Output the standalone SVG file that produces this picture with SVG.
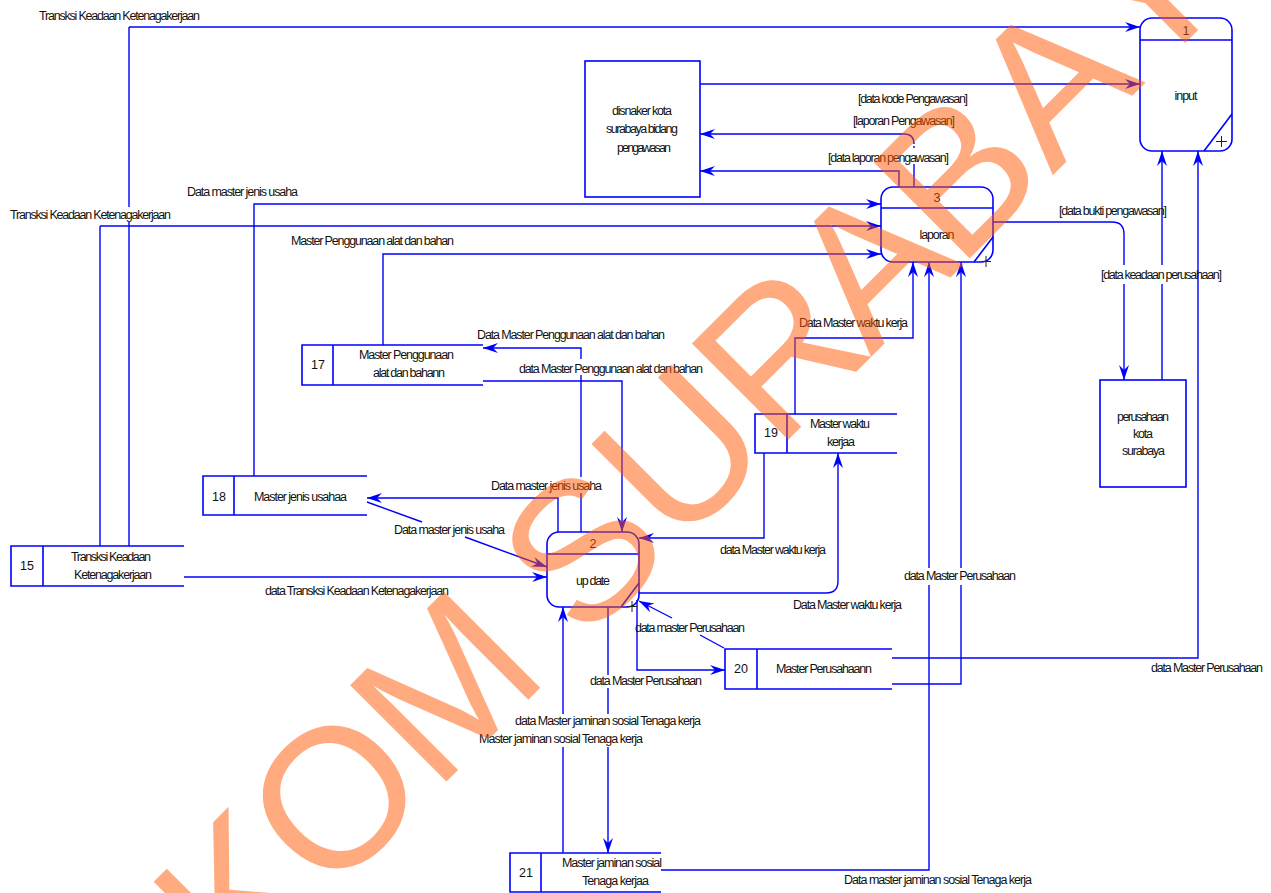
<svg xmlns="http://www.w3.org/2000/svg" width="1271" height="893" viewBox="0 0 1271 893">
<style>
text{font-family:"Liberation Sans",Arial,sans-serif;font-size:12.500px;fill:#111}
.m{text-anchor:middle}
.s{fill:none;stroke:#0000ff;stroke-width:1.6}
.c{fill:none;stroke:#0000ff;stroke-width:1.4}
.a{marker-end:url(#ah)}
.w{font-size:198px;fill:#ff5700;fill-opacity:.5}
</style>
<defs>
<marker id="ah" markerUnits="userSpaceOnUse" viewBox="-16 -6 17 12" refX="0" refY="0" markerWidth="17" markerHeight="12" orient="auto">
<path d="M-15,-5 L0,0 L-15,5 L-10,0 Z" fill="#0000ff"/>
</marker>
</defs>
<rect width="1271" height="893" fill="#fff"/>
<g id="connectors">
<path class="c" d="M129,546V222M129,207V27"/><path class="c a" d="M129,27H1140"/>
<path class="c" d="M100,546V226"/><path class="c a" d="M100,226H881"/>
<path class="c a" d="M700,84H1140"/>
<path class="c" d="M914,187V164M914,148V146"/><path class="c a" d="M914,144Q914,134 904,134H700"/>
<path class="c a" d="M899,187V171H700"/>
<path class="c a" d="M254,476V204H881"/>
<path class="c a" d="M383,345V254H881"/>
<path class="c a" d="M993,222H1112Q1124,222 1124,234V265M1124,284V380"/>
<path class="c a" d="M1162,380V284M1162,265V151"/>
<path class="c a" d="M892,658H1198V151"/>
<path class="c a" d="M892,684H961V585M961,568V262"/>
<path class="c a" d="M661,870H929V585M929,568V262"/>
<path class="c a" d="M795,414V338H913V262"/>
<path class="c a" d="M764,453V538H639"/>
<path class="c a" d="M639,593H826Q838,593 838,581V453"/>
<path class="c a" d="M483,381H622V532"/>
<path class="c a" d="M581,532V493M581,477V375M581,359V348H483"/>
<path class="c a" d="M558,532V498H367"/>
<path class="c" d="M367,502L422,522"/><path class="c a" d="M465,537L547,567"/>
<path class="c a" d="M184,577H547"/>
<path class="c a" d="M563,853V747M563,714V607"/>
<path class="c a" d="M608,607V675M608,688V714M608,747V853"/>
<path class="c" d="M724,648L700,635"/><path class="c a" d="M672,618L639,601"/>
<path class="c a" d="M637,600V670H725"/>
</g>
<g id="labels">
<text x="39" y="20" textLength="161">Transksi Keadaan Ketenagakerjaan</text>
<text x="858" y="103" textLength="110">[data kode Pengawasan]</text>
<text x="853" y="125" textLength="102">[laporan Pengawasan]</text>
<text x="828" y="162" textLength="121">[data laporan pengawasan]</text>
<text x="187" y="196" textLength="111">Data master jenis usaha</text>
<text x="10" y="219" textLength="161">Transksi Keadaan Ketenagakerjaan</text>
<text x="291" y="245" textLength="163">Master Penggunaan alat dan bahan</text>
<text x="1059" y="215" textLength="108">[data bukti pengawasan]</text>
<text x="1101" y="279" textLength="121">[data keadaan perusahaan]</text>
<text x="799" y="327" textLength="109">Data Master waktu kerja</text>
<text x="477" y="339" textLength="188">Data Master Penggunaan alat dan bahan</text>
<text x="519" y="373" textLength="184">data Master Penggunaan alat dan bahan</text>
<text x="491" y="490" textLength="111">Data master jenis usaha</text>
<text x="394" y="534" textLength="111">Data master jenis usaha</text>
<text x="720" y="554" textLength="106">data Master waktu kerja</text>
<text x="265" y="595" textLength="184">data Transksi Keadaan Ketenagakerjaan</text>
<text x="793" y="609" textLength="109">Data Master waktu kerja</text>
<text x="904" y="580" textLength="112">data Master Perusahaan</text>
<text x="635" y="632" textLength="110">data master Perusahaan</text>
<text x="590" y="685" textLength="112">data Master Perusahaan</text>
<text x="1151" y="672" textLength="112">data Master Perusahaan</text>
<text x="515" y="725" textLength="186">data Master jaminan sosial Tenaga kerja</text>
<text x="479" y="743" textLength="164">Master jaminan sosial Tenaga kerja</text>
<text x="844" y="884" textLength="188">Data master jaminan sosial Tenaga kerja</text>
</g>
<g id="process-1">
<rect class="s" x="1140" y="18" width="92" height="133" rx="12"/>
<path class="s" d="M1140,40H1232M1232,114L1204,151"/>
<path d="M1216,141.500H1227M1221.500,136V147" fill="none" stroke="#222"/>
<text class="m" x="1186" y="35">1</text>
<text class="m" x="1186" y="100" textLength="23">input</text>
</g>
<g id="process-3">
<rect class="s" x="881" y="187" width="112" height="75" rx="12"/>
<path class="s" d="M881,208H993M993,237L974,262"/>
<path d="M981,261.500H991M986,256V267" fill="none" stroke="#222"/>
<text class="m" x="937" y="202">3</text>
<text class="m" x="937" y="239" textLength="35">laporan</text>
</g>
<g id="process-2">
<rect class="s" x="547" y="532" width="92" height="75" rx="12"/>
<path class="s" d="M547,554H639M639,583L621,607"/>
<path d="M627,606.500H637M632,601V612" fill="none" stroke="#222"/>
<text class="m" x="593" y="548">2</text>
<text class="m" x="593" y="585" textLength="34">up date</text>
</g>
<g id="disnaker">
<rect class="s" x="585" y="61" width="115" height="136"/>
<text x="612" y="115" textLength="60">disnaker kota</text>
<text x="606" y="133" textLength="72">surabaya bidang</text>
<text x="617" y="152" textLength="54">pengawasan</text>
</g>
<g id="perusahaan">
<rect class="s" x="1100" y="380" width="86" height="107"/>
<text x="1117" y="421" textLength="52">perusahaan</text>
<text x="1133" y="438" textLength="20">kota</text>
<text x="1122" y="455" textLength="43">surabaya</text>
</g>
<g id="store-17">
<path class="s" d="M483,345H302V385H483M333,345V385"/>
<text class="m" x="318" y="369">17</text>
<text x="359" y="359" textLength="95">Master Penggunaan</text>
<text x="373" y="377" textLength="72">alat dan bahann</text>
</g>
<g id="store-18">
<path class="s" d="M367,476H203V515H367M234,476V515"/>
<text class="m" x="219" y="501">18</text>
<text x="254" y="501" textLength="93">Master jenis usahaa</text>
</g>
<g id="store-15">
<path class="s" d="M184,546H11V586H184M43,546V586"/>
<text class="m" x="27" y="570">15</text>
<text x="71" y="561" textLength="80">Transksi Keadaan</text>
<text x="74" y="579" textLength="78">Ketenagakerjaan</text>
</g>
<g id="store-19">
<path class="s" d="M897,414H755V453H897M787,414V453"/>
<text class="m" x="771" y="437">19</text>
<text x="810" y="428" textLength="60">Master waktu</text>
<text x="827" y="446" textLength="28">kerjaa</text>
</g>
<g id="store-20">
<path class="s" d="M892,649H725V689H892M757,649V689"/>
<text class="m" x="741" y="673">20</text>
<text x="776" y="673" textLength="96">Master Perusahaann</text>
</g>
<g id="store-21">
<path class="s" d="M661,853H510V892H661M541,853V892"/>
<text class="m" x="526" y="877">21</text>
<text x="562" y="867" textLength="100">Master jaminan sosial</text>
<text x="582" y="885" textLength="67">Tenaga kerjaa</text>
</g>
<text id="watermark" class="w" transform="translate(614 614) rotate(-45)" x="-531 -404 -253 -88 -43 89 230 363 487 620 751" y="0">KOM SURABAY</text>
</svg>
